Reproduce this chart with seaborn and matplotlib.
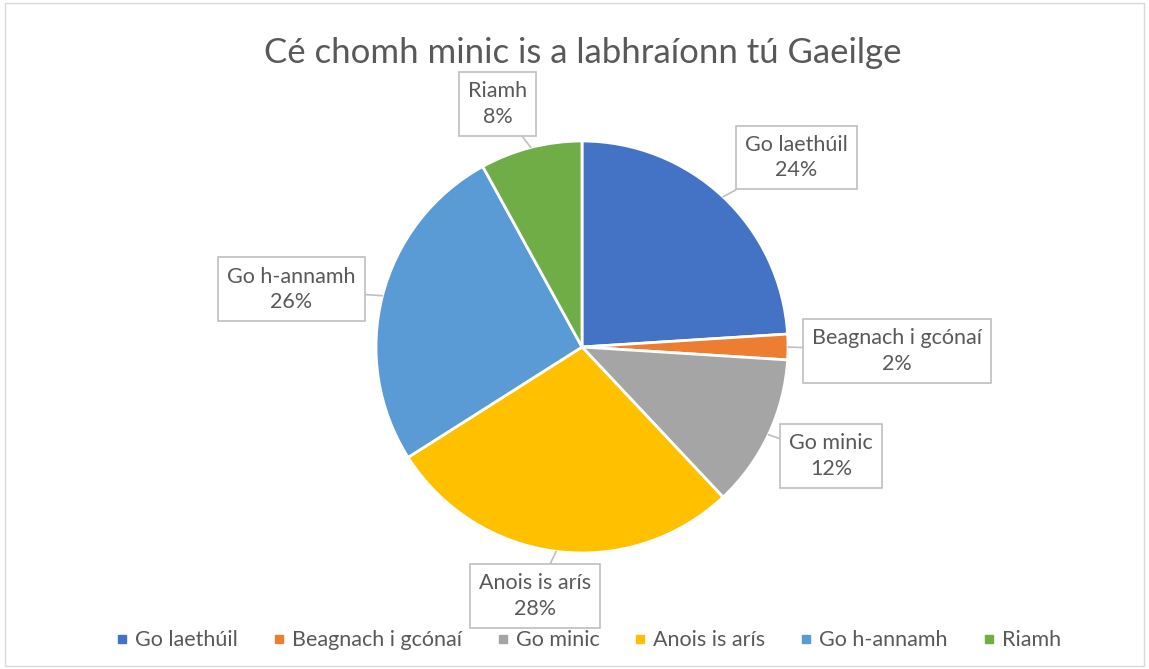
import numpy as np
import matplotlib
matplotlib.use('Agg')
import matplotlib.pyplot as plt
from matplotlib.lines import Line2D
from matplotlib.patches import Rectangle
import seaborn as sns

# chart data
categories = ['Go laethúil', 'Beagnach i gcónaí', 'Go minic',
              'Anois is arís', 'Go h-annamh', 'Riamh']
percents = [24, 2, 12, 28, 26, 8]
title = 'Cé chomh minic is a labhraíonn tú Gaeilge'

# layout: label box centres in pie-radius units (Excel best-fit spots)
label_pos = [(1.04, 0.92), (1.53, -0.02), (1.21, -0.53),
             (-0.23, -1.21), (-1.41, 0.28), (-0.41, 1.18)]

sns.set_theme(style='white')
colors = sns.color_palette(['#4472C4', '#ED7D31', '#A5A5A5',
                            '#FFC000', '#5B9BD5', '#70AD47'])
plt.rcParams['font.family'] = ['Lato', 'DejaVu Sans']
txt_col = '#595959'

fig = plt.figure(figsize=(11.49, 6.69), dpi=100)
fig.patch.set_facecolor('white')
fig.patches.append(Rectangle((0.004, 0.004), 0.992, 0.992, transform=fig.transFigure,
                             fill=False, ec='#d9d9d9', lw=1))

R = 206
ax = fig.add_axes([(582 - R) / 1149, (322 - R) / 669, 2 * R / 1149, 2 * R / 669])
wedges, _ = ax.pie(percents, colors=colors, startangle=90, counterclock=False,
                   radius=1, wedgeprops=dict(edgecolor='white', linewidth=2))
ax.set_xlim(-1, 1)
ax.set_ylim(-1, 1)
ax.set_aspect('equal')
ax.axis('off')

for w, name, p, pos in zip(wedges, categories, percents, label_pos):
    mid = np.deg2rad((w.theta1 + w.theta2) / 2)
    anchor = (np.cos(mid), np.sin(mid))
    ax.annotate(f'{name}\n{p}%', xy=anchor, xytext=pos, ha='center', va='center',
                fontsize=15.5, color=txt_col, linespacing=1.35, annotation_clip=False,
                bbox=dict(boxstyle='square,pad=0.42', fc='white', ec='#bfbfbf', lw=1.2),
                arrowprops=dict(arrowstyle='-', color='#bfbfbf', lw=1.2,
                                shrinkA=0, shrinkB=0))

fig.text(0.507, 0.921, title, ha='center', va='center', fontsize=25, color=txt_col)

handles = [Line2D([], [], marker='s', ls='', color=c, markersize=6) for c in colors]
fig.legend(handles, categories, loc='center', bbox_to_anchor=(0.512, 0.043), ncol=6,
           frameon=False, fontsize=15.5, labelcolor=txt_col, handlelength=0.6,
           handletextpad=0.3, columnspacing=1.6)

fig.savefig('out.png', dpi=100)
